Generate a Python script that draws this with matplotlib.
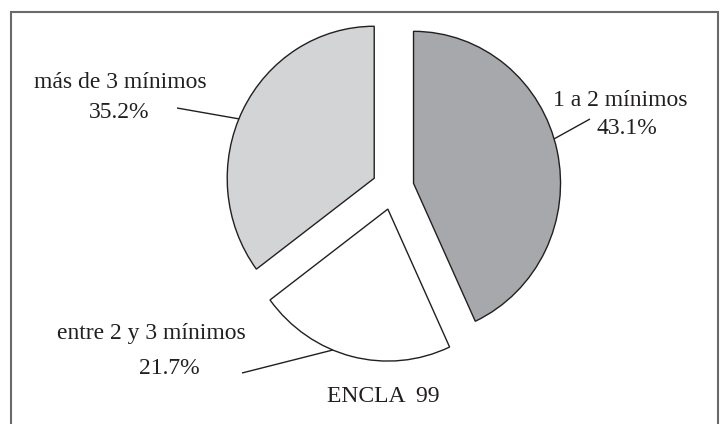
import numpy as np
import matplotlib
matplotlib.use("Agg")
import matplotlib.pyplot as plt
from matplotlib.patches import Rectangle

# Income distribution (in minimum wages), ENCLA 1999
categories = ["1 a 2 mínimos", "entre 2 y 3 mínimos", "más de 3 mínimos"]
shares = [43.1, 21.7, 35.2]
colors = ["#a7a8ac", "#ffffff", "#d3d4d6"]
source_note = "ENCLA  99"

W, H, DPI = 728, 424, 100
fig = plt.figure(figsize=(W / DPI, H / DPI), dpi=DPI)
fig.patch.set_facecolor("white")
ax = fig.add_axes([0, 0, 1, 1])

# pie centre and radii in pixels (slightly taller than wide)
CX, CY, RX, RY = 393.0, 188.0, 147.0, 152.0


def px(x, y):
    """pixel position (from top-left) -> data coordinates"""
    return (x - CX) / RX, (CY - y) / RY


wedges, _ = ax.pie(shares, colors=colors, startangle=90, counterclock=False,
                   explode=[0.143] * len(shares), radius=1.0,
                   wedgeprops=dict(edgecolor="#231f20", linewidth=1.0))
ax.set_aspect("auto")
ax.set_xlim(-CX / RX, (W - CX) / RX)
ax.set_ylim(-(H - CY) / RY, CY / RY)
ax.axis("off")

font = dict(family="Liberation Serif", fontsize=17, color="#231f20")

# label text, value text positions (pixels), leader start (pixels), arc angle
label_layout = {
    "1 a 2 mínimos": ((620, 100), (627, 129), (590, 119), 17.0),
    "entre 2 y 3 mínimos": ((151, 333), (169, 369), (242, 373), -112.0),
    "más de 3 mínimos": ((120, 83), (119, 112), (177, 108), 157.0),
}

for wedge, name, val in zip(wedges, categories, shares):
    (lx, ly), (vx, vy), (sx, sy), ang = label_layout[name]
    ax.text(*px(lx, ly), name, ha="center", va="center", **font)
    ax.text(*px(vx, vy), f"{val:.1f}%", ha="center", va="center", **font)
    cx, cy = wedge.center
    ex = cx + wedge.r * np.cos(np.radians(ang))
    ey = cy + wedge.r * np.sin(np.radians(ang))
    x0, y0 = px(sx, sy)
    ax.plot([x0, ex], [y0, ey], color="#231f20", lw=1.0, solid_capstyle="butt")

ax.text(*px(383, 396), source_note, ha="center", va="center", **font)

# outer frame
fig.add_artist(Rectangle((11 / W, -0.05), (718 - 11) / W, (H - 12) / H + 0.05,
                         transform=fig.transFigure, fill=False,
                         edgecolor="#6a6a6a", linewidth=1.5))

fig.savefig("out.png", dpi=DPI)
